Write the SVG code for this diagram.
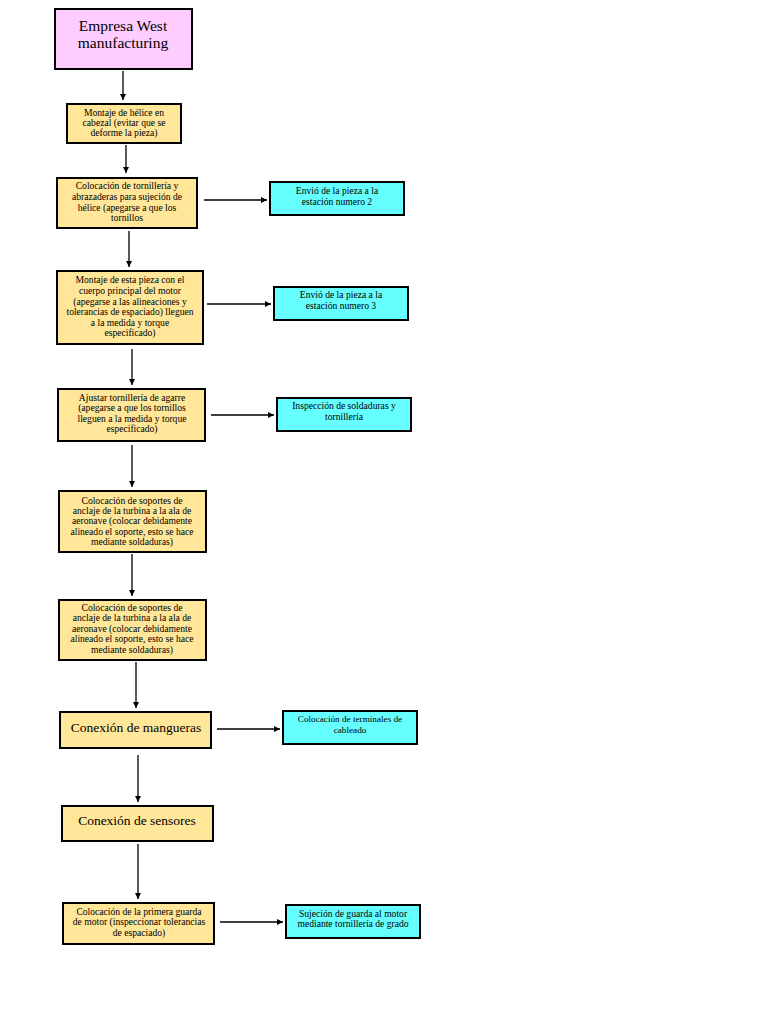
<svg xmlns="http://www.w3.org/2000/svg" width="768" height="1024" viewBox="0 0 768 1024">
<style>
.box{stroke:#000;stroke-width:2}
.pink{fill:#FFCCFF}
.yel{fill:#FFE699}
.cy{fill:#66FFFF}
text{font-family:"Liberation Serif","Times New Roman",serif;fill:#000;text-anchor:middle}
.s{font-size:9.6px}
.xs{font-size:9.2px}
.l{font-size:15.5px}
.m{font-size:13.5px}
.con line{stroke:#000;stroke-width:1.3;marker-end:url(#ah)}
</style>
<defs>
<marker id="ah" markerWidth="8" markerHeight="8" refX="6" refY="3" orient="auto" markerUnits="userSpaceOnUse">
<path d="M0,0 L6,3 L0,6 Z" fill="#000"/>
</marker>
</defs>
<rect width="768" height="1024" fill="#fff"/>
<g class="con">
<line x1="123" y1="71" x2="123" y2="100"/>
<line x1="126" y1="145" x2="126" y2="173"/>
<line x1="204" y1="200" x2="267" y2="200"/>
<line x1="129" y1="231" x2="129" y2="267"/>
<line x1="207" y1="304" x2="271" y2="304"/>
<line x1="132" y1="349" x2="132" y2="385"/>
<line x1="211" y1="415" x2="274" y2="415"/>
<line x1="132" y1="445" x2="132" y2="487"/>
<line x1="132" y1="554" x2="132" y2="596"/>
<line x1="136" y1="662" x2="136" y2="708"/>
<line x1="217" y1="729" x2="280" y2="729"/>
<line x1="138" y1="755" x2="138" y2="802"/>
<line x1="138" y1="844" x2="138" y2="899"/>
<line x1="220" y1="922" x2="283" y2="922"/>
</g>
<g id="n1"><rect class="box pink" x="55" y="9" width="137" height="60"/>
<text class="l" x="123" y="31">Empresa West</text><text class="l" x="123" y="48">manufacturing</text></g>
<g id="n2"><rect class="box yel" x="67" y="104" width="114" height="39"/>
<text class="s" x="124" y="116">Montaje de hélice en</text><text class="s" x="124" y="126">cabezal (evitar que se</text><text class="s" x="124" y="136">deforme la pieza)</text></g>
<g id="n3"><rect class="box yel" x="57" y="178" width="140" height="50"/>
<text class="s" x="127" y="189">Colocación de tornillería y</text><text class="s" x="127" y="200">abrazaderas para sujeción de</text><text class="s" x="127" y="211">hélice (apegarse a que los</text><text class="s" x="127" y="221">tornillos</text></g>
<g id="c1"><rect class="box cy" x="270" y="182" width="134" height="33"/>
<text class="s" x="337" y="194">Envió de la pieza a la</text><text class="s" x="337" y="205">estación numero 2</text></g>
<g id="n4"><rect class="box yel" x="57" y="271" width="146" height="73"/>
<text class="s" x="130" y="283">Montaje de esta pieza con el</text><text class="s" x="130" y="294">cuerpo principal del motor</text><text class="s" x="130" y="305">(apegarse a las alineaciones y</text><text class="s" x="130" y="315">tolerancias de espaciado) lleguen</text><text class="s" x="130" y="326">a la medida y torque</text><text class="s" x="130" y="336">especificado)</text></g>
<g id="c2"><rect class="box cy" x="274" y="287" width="134" height="33"/>
<text class="s" x="341" y="298">Envió de la pieza a la</text><text class="s" x="341" y="309">estación numero 3</text></g>
<g id="n5"><rect class="box yel" x="58" y="389" width="147" height="52"/>
<text class="s" x="132" y="401">Ajustar tornillería de agarre</text><text class="s" x="132" y="411">(apegarse a que los tornillos</text><text class="s" x="132" y="422">lleguen a la medida y torque</text><text class="s" x="132" y="432">especificado)</text></g>
<g id="c3"><rect class="box cy" x="277" y="398" width="134" height="33"/>
<text class="s" x="344" y="409">Inspección de soldaduras y</text><text class="s" x="344" y="420">tornillería</text></g>
<g id="n6"><rect class="box yel" x="59" y="491" width="147" height="61"/>
<text class="s" x="132" y="504">Colocación de soportes de</text><text class="s" x="132" y="514">anclaje de la turbina a la ala de</text><text class="s" x="132" y="524">aeronave (colocar debidamente</text><text class="s" x="132" y="535">alineado el soporte, esto se hace</text><text class="s" x="132" y="545">mediante soldaduras)</text></g>
<g id="n7"><rect class="box yel" x="59" y="600" width="147" height="60"/>
<text class="s" x="132" y="611">Colocación de soportes de</text><text class="s" x="132" y="621">anclaje de la turbina a la ala de</text><text class="s" x="132" y="632">aeronave (colocar debidamente</text><text class="s" x="132" y="642">alineado el soporte, esto se hace</text><text class="s" x="132" y="653">mediante soldaduras)</text></g>
<g id="n8"><rect class="box yel" x="60" y="712" width="151" height="36"/>
<text class="m" x="136" y="732">Conexión de mangueras</text></g>
<g id="c4"><rect class="box cy" x="283" y="711" width="134" height="33"/>
<text class="xs" x="350" y="722">Colocación de terminales de</text><text class="xs" x="350" y="733">cableado</text></g>
<g id="n9"><rect class="box yel" x="62" y="806" width="151" height="35"/>
<text class="m" x="137" y="825">Conexión de sensores</text></g>
<g id="n10"><rect class="box yel" x="63" y="903" width="151" height="41"/>
<text class="s" x="139" y="915">Colocación de la primera guarda</text><text class="s" x="139" y="925">de motor (inspeccionar tolerancias</text><text class="s" x="139" y="936">de espaciado)</text></g>
<g id="c5"><rect class="box cy" x="286" y="905" width="134" height="33"/>
<text class="s" x="353" y="917">Sujeción de guarda al motor</text><text class="s" x="353" y="927">mediante tornillería de grado</text></g>
</svg>
